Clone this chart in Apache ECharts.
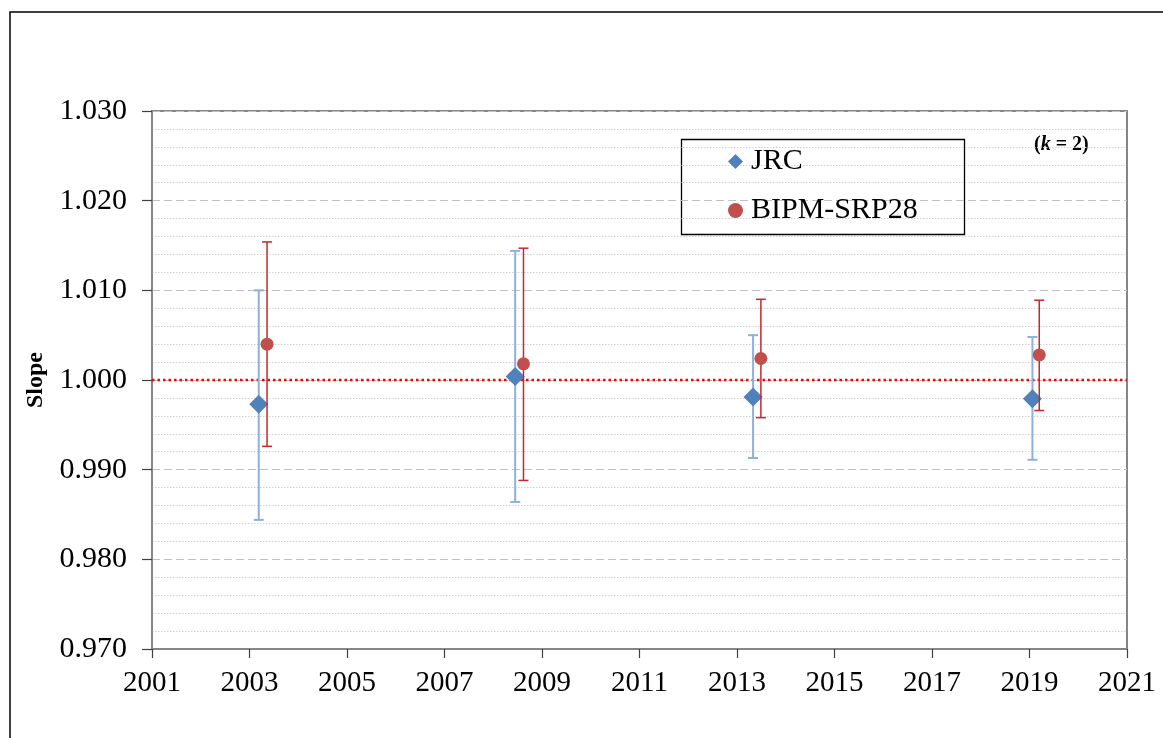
<!DOCTYPE html>
<html>
<head>
<meta charset="utf-8">
<script src="https://cdn.jsdelivr.net/npm/echarts@6/dist/echarts.min.js"></script>
<style>
html,body{margin:0;padding:0;background:#fff;}
#chart{width:1163px;height:738px;}
</style>
</head>
<body>
<div id="chart"></div>
<script>
// ---- data ----
const X0 = 2001;
const xTickLabels = ['2001','2003','2005','2007','2009','2011','2013','2015','2017','2019','2021'];
const jrcYears  = [2003.19, 2008.45, 2013.33, 2019.06];
const jrcSlope  = [0.9973, 1.0004, 0.9981, 0.9979];
const jrcLow    = [0.9844, 0.9864, 0.9913, 0.9911];
const jrcHigh   = [1.0100, 1.0144, 1.0050, 1.0048];
const bipmYears = [2003.36, 2008.62, 2013.49, 2019.20];
const bipmSlope = [1.0040, 1.0018, 1.0024, 1.0028];
const bipmLow   = [0.9926, 0.9888, 0.9958, 0.9966];
const bipmHigh  = [1.0154, 1.0147, 1.0090, 1.0089];
const refValue  = 1.000;

const FONT = '"Liberation Serif", "Times New Roman", serif';

function errData(years, lo, hi){ return years.map((y,i)=>[y - X0, lo[i], hi[i]]); }
function ptData(years, v){ return years.map((y,i)=>[y - X0, v[i]]); }

function errRender(color, lw, capHalf){
  return function(params, api){
    const x = api.value(0), lo = api.value(1), hi = api.value(2);
    const pt = api.coord([x, hi]), pb = api.coord([x, lo]);
    const st = {stroke: color, lineWidth: lw};
    return {type:'group', children:[
      {type:'line', shape:{x1:pt[0], y1:pt[1], x2:pb[0], y2:pb[1]}, style: st},
      {type:'line', shape:{x1:pt[0]-capHalf, y1:pt[1], x2:pt[0]+capHalf, y2:pt[1]}, style: st},
      {type:'line', shape:{x1:pb[0]-capHalf, y1:pb[1], x2:pb[0]+capHalf, y2:pb[1]}, style: st}
    ]};
  };
}

const chart = echarts.init(document.getElementById('chart'), null, {renderer:'canvas'});
const option = {
  animation: false,
  backgroundColor: '#ffffff',
  grid: {left:152, top:111, right:36, bottom:89, show:true, borderColor:'#868686', borderWidth:2, backgroundColor:'transparent'},
  xAxis: {
    type:'value', min:0, max:20, interval:2,
    axisLine:{show:true, lineStyle:{color:'#868686', width:2}},
    axisTick:{show:true, length:9, lineStyle:{color:'#404040', width:1.2}},
    axisLabel:{formatter: v => xTickLabels[Math.round(v/2)], fontFamily:FONT, fontSize:29, color:'#000', margin:20},
    splitLine:{show:false}
  },
  yAxis: {
    type:'value', min:0.970, max:1.030, interval:0.010,
    name:'Slope', nameLocation:'middle', nameGap:104, nameRotate:90,
    nameTextStyle:{fontFamily:FONT, fontSize:24, fontWeight:'bold', color:'#000'},
    axisLine:{show:true, lineStyle:{color:'#868686', width:2}},
    axisTick:{show:true, length:10, lineStyle:{color:'#404040', width:1.2}},
    axisLabel:{formatter: v => v.toFixed(3), fontFamily:FONT, fontSize:30, color:'#000', margin:25},
    splitLine:{show:true, lineStyle:{color:'#C0C0C0', width:1, type:[8,4]}},
    minorTick:{show:false, splitNumber:5},
    minorSplitLine:{show:true, lineStyle:{color:'#D2D2D2', width:1, type:[1.5,1.5]}}
  },
  legend: {
    orient:'vertical', left:728, top:146, itemWidth:15, itemHeight:15, itemGap:18,
    padding:0,
    textStyle:{fontFamily:FONT, fontSize:30, color:'#000', lineHeight:31, padding:[0,0,0,3]},
    data:[{name:'JRC', icon:'diamond'}, {name:'BIPM-SRP28', icon:'circle'}]
  },
  graphic: [
    {type:'polyline', shape:{points:[[10,738],[10,12],[1163,12]]}, style:{stroke:'#000', lineWidth:1.5, fill:null}, silent:true},
    {type:'rect', shape:{x:681.5, y:139.5, width:283, height:95}, style:{stroke:'#000', lineWidth:1.3, fill:'transparent'}, z:-1, silent:true},
    {type:'text', left:1034, top:135, style:{
      text:'{p|(}{k|k}{p| = 2)}',
      rich:{p:{fontFamily:FONT, fontSize:20, fontWeight:'bold', fill:'#000'}, k:{fontFamily:FONT, fontSize:20, fontWeight:'bold', fontStyle:'italic', fill:'#000'}}
    }}
  ],
  series: [
    {
      name:'ref', type:'line', data:[[0, refValue],[20, refValue]], symbol:'none',
      lineStyle:{color:'#FF0000', width:2.5, type:[2.5,3]}, silent:true, z:1
    },
    {
      name:'JRC err', type:'custom', renderItem: errRender('#8DB0DC', 2, 5),
      data: errData(jrcYears, jrcLow, jrcHigh), encode:{x:0, y:[1,2]}, z:2, silent:true
    },
    {
      name:'JRC', type:'scatter', symbol:'diamond', symbolSize:[19,19],
      itemStyle:{color:'#4F81BD', opacity:1}, data: ptData(jrcYears, jrcSlope), z:3
    },
    {
      name:'BIPM err', type:'custom', renderItem: errRender('#C8272C', 1.5, 5),
      data: errData(bipmYears, bipmLow, bipmHigh), encode:{x:0, y:[1,2]}, z:4, silent:true
    },
    {
      name:'BIPM-SRP28', type:'scatter', symbol:'circle', symbolSize:13,
      itemStyle:{color:'#C0504D', opacity:1}, data: ptData(bipmYears, bipmSlope), z:5
    }
  ]
};
chart.setOption(option);
</script>
</body>
</html>
